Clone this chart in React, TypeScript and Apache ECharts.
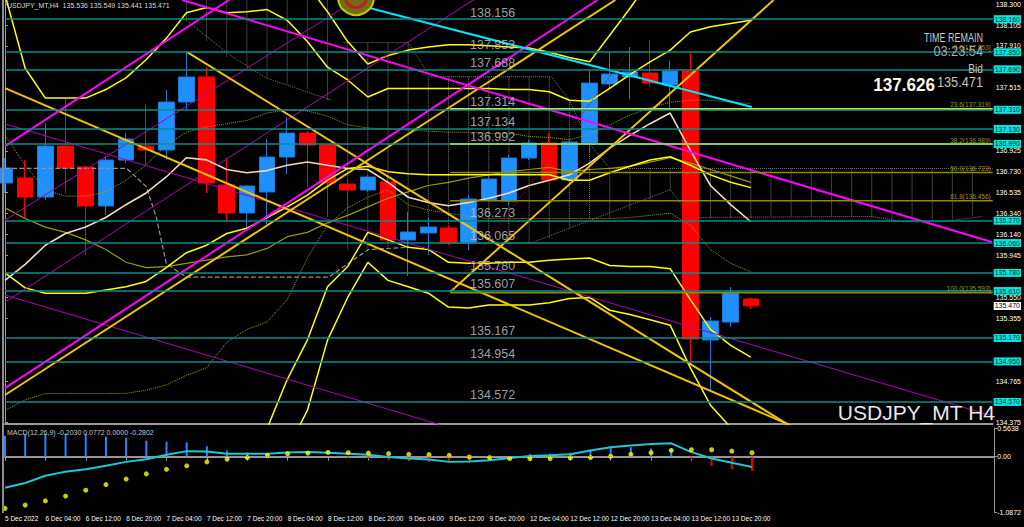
import React, { useEffect, useRef } from 'react';
import * as echarts from 'echarts';

const FONT = "'Liberation Sans', Arial, sans-serif";

// ---- bar times (H4) ----
const barTimes = [
  '5 Dec 2022', '6 Dec 00:00', '6 Dec 04:00', '6 Dec 08:00', '6 Dec 12:00', '6 Dec 16:00', '6 Dec 20:00',
  '7 Dec 00:00', '7 Dec 04:00', '7 Dec 08:00', '7 Dec 12:00', '7 Dec 16:00', '7 Dec 20:00',
  '8 Dec 00:00', '8 Dec 04:00', '8 Dec 08:00', '8 Dec 12:00', '8 Dec 16:00', '8 Dec 20:00',
  '9 Dec 00:00', '9 Dec 04:00', '9 Dec 08:00', '9 Dec 12:00', '9 Dec 16:00', '9 Dec 20:00',
  '12 Dec 00:00', '12 Dec 04:00', '12 Dec 08:00', '12 Dec 12:00', '12 Dec 16:00', '12 Dec 20:00',
  '13 Dec 00:00', '13 Dec 04:00', '13 Dec 08:00', '13 Dec 12:00', '13 Dec 16:00', '13 Dec 20:00',
  '14 Dec 00:00',
];
const SLOTS = 50;

// ---- OHLC ----
const opens = [136.623, 136.670, 136.492, 136.970, 136.774, 136.408, 136.839, 136.970, 136.933, 137.383, 137.618, 136.605, 136.342, 136.539, 136.867, 137.092, 136.980, 136.614, 136.558, 136.633, 136.089, 136.154, 136.201, 136.060, 136.464, 136.454, 136.858, 136.999, 136.651, 136.999, 137.552, 137.618, 137.655, 137.543, 137.674, 135.151, 135.319, 135.536];
const closes = [136.764, 136.492, 136.970, 136.764, 136.408, 136.839, 137.036, 136.933, 137.383, 137.618, 136.623, 136.342, 136.595, 136.867, 137.092, 136.980, 136.623, 136.558, 136.680, 136.089, 136.164, 136.211, 136.060, 136.473, 136.661, 136.858, 136.999, 136.651, 137.008, 137.561, 137.646, 137.665, 137.561, 137.674, 135.160, 135.329, 135.591, 135.471];
const lows = [136.529, 136.295, 136.464, 136.529, 135.948, 136.323, 136.811, 136.783, 136.839, 137.308, 136.529, 136.257, 136.201, 136.238, 136.708, 136.586, 136.304, 136.370, 136.540, 136.070, 135.751, 135.948, 136.042, 135.995, 136.445, 136.417, 136.839, 136.633, 136.633, 136.905, 137.505, 137.411, 137.524, 137.308, 134.944, 134.681, 135.272, 135.441];
const highs = [136.858, 136.839, 137.186, 137.411, 136.783, 136.877, 137.092, 137.364, 137.496, 137.852, 137.711, 136.858, 136.605, 137.036, 137.242, 137.111, 136.989, 136.651, 136.700, 136.689, 136.351, 136.304, 136.229, 136.511, 136.689, 136.886, 137.027, 137.092, 137.027, 137.683, 137.852, 137.899, 137.965, 137.768, 137.843, 135.366, 135.648, 135.549];

// ---- indicator curves (price per bar) ----
const maBeige = [135.71, 135.86, 136.04, 136.15, 136.21, 136.30, 136.42, 136.53, 136.68, 136.86, 136.84, 136.75, 136.72, 136.74, 136.79, 136.82, 136.79, 136.76, 136.75, 136.63, 136.49, 136.44, 136.41, 136.44, 136.48, 136.53, 136.60, 136.65, 136.70, 136.81, 136.95, 137.07, 137.18, 137.28, 136.93, 136.60, 136.42, 136.26];
const bandUpper1 = [138.39, 137.70, 137.42, 137.42, 137.42, 137.50, 137.61, 137.78, 137.98, 138.22, 138.27, 138.22, 138.23, 138.25, 138.15, 137.95, 137.71, 137.59, 137.43, 137.51, 137.51, 137.51, 137.51, 137.51, 137.51, 137.50, 137.50, 137.48, 137.40, 137.39, 137.51, 137.64, 137.76, 137.87, 138.04, 138.09, 138.12, 138.15];
const bandUpper2 = [null, null, null, null, null, null, null, null, null, null, null, null, null, null, 138.72, 138.48, 138.23, 137.95, 137.74, 137.82, 137.87, 137.90, 137.92, 137.92, 137.91, 137.90, 137.89, 137.85, 137.80, 137.76, 138.01, 138.26, 138.53, 138.76, null, null, null, null];
const bandMid = [135.78, 135.64, 135.59, 135.59, 135.59, 135.62, 135.65, 135.70, 135.83, 135.97, 136.04, 136.15, 136.20, 136.30, 136.40, 136.51, 136.65, 136.76, 136.78, 136.73, 136.71, 136.70, 136.70, 136.70, 136.70, 136.70, 136.70, 136.70, 136.65, 136.65, 136.72, 136.78, 136.84, 136.87, 136.79, 136.70, 136.63, 136.58];
const bandLower1 = [null, null, null, null, null, null, null, null, null, null, null, null, 133.93, 134.32, 134.78, 135.15, 135.65, 135.84, 136.16, 136.09, 136.02, 136.00, 135.88, 135.87, 135.87, 135.88, 135.88, 135.90, 135.91, 135.92, 135.85, 135.84, 135.84, 135.82, 135.53, 135.25, 135.10, 134.99];
const bandLower2 = [null, null, null, null, null, null, null, null, null, null, null, null, null, null, 134.12, 134.49, 135.15, 135.55, 135.88, 135.71, 135.65, 135.59, 135.46, 135.45, 135.48, 135.48, 135.48, 135.50, 135.54, 135.55, 135.43, 135.39, 135.34, 135.29, 134.89, 134.54, 134.33, 134.17];
const oliveMA = [136.39, 136.29, 136.21, 136.16, 136.09, 136.00, 135.88, 135.83, 135.84, 135.87, 135.90, 135.93, 135.95, 136.01, 136.12, 136.16, 136.25, 136.32, 136.40, 136.48, 136.54, 136.60, 136.63, 136.67, 136.70, 136.73, 136.75, 136.77, 136.73, 136.75, 136.76, 136.78, 136.82, 136.86, 136.81, 136.75, 136.69, 136.63];
const dottedUpper = [137.07, 136.79, 136.56, 136.50, 136.50, 136.54, 136.65, 136.79, 136.98, 137.10, 137.15, 137.18, 137.21, 137.28, 137.31, 137.30, 137.25, 137.17, 137.14, 137.13, 137.12, 137.11, 137.10, 137.10, 137.09, 137.09, 137.06, 137.05, 137.03, 137.08, 137.17, 137.26, 137.33, 137.38, 137.40, 137.40, 137.38, 137.37];
const dottedLower = [134.49, 134.59, 134.65, 134.65, 134.65, 134.65, 134.65, 134.68, 134.73, 134.82, 134.89, 135.13, 135.25, 135.32, 135.53, 135.92, 136.23, 136.39, 136.49, 136.56, 136.42, 136.37, 136.34, 136.31, 136.29, 136.29, 136.29, 136.29, 136.29, 136.29, 136.29, 136.30, 136.32, 136.34, 136.23, 136.00, 135.87, 135.79];

// ---- dotted cloud hatch (top / bottom per bar slot) ----
const cloudTop = [null, null, null, null, null, null, null, null, null, 138.40, 138.40, 138.40, 138.40, 138.40, 138.40, 138.40, 138.40, 137.94, 137.94, 137.94, 137.94, 137.62, 137.62, 137.62, 137.62, 137.62, 137.62, 137.62, 137.40, 136.99, 136.76, 136.76, 136.76, 136.76, 136.76, 136.76, 136.76, 136.76, 136.76, 136.76, 136.76, 136.76, 136.76, 136.76, 136.76, 136.76, 136.76, 136.76, 136.76, null];
const cloudBottom = [null, null, null, null, null, null, null, null, null, 138.15, 137.96, 137.81, 137.71, 137.61, 137.55, 137.50, 137.40, 136.00, 136.00, 136.02, 136.02, 136.05, 136.06, 136.06, 136.06, 136.06, 136.06, 136.10, 136.20, 136.28, 136.30, 136.37, 136.45, 136.56, 136.30, 136.30, 136.30, 136.30, 136.31, 136.31, 136.31, 136.31, 136.31, 136.30, 136.27, 136.26, 136.26, 136.28, 136.31, null];

// ---- polylines [barIndex, price] ----
const greyDashPath = [[0, 136.76], [6.03, 136.76], [7.01, 136.59], [7.51, 136.30], [8.0, 135.87], [8.99, 135.74], [16.05, 135.74], [18.03, 136.0], [20.0, 136.02]];
const cloudTopPath = [[16.8, 137.94], [20.0, 137.94], [21.1, 137.62], [27.1, 137.62], [28.0, 137.40], [29.0, 136.99], [30.0, 136.76], [49, 136.76]];
const cloudBottomPath = [[22.1, 136.06], [26.1, 136.06], [28.0, 136.20], [33.0, 136.56], [34.1, 136.30], [43.0, 136.31], [44.5, 136.26], [46.5, 136.26], [48.5, 136.31]];
const greyDotPathB = [[8.99, 138.15], [11.26, 137.81], [12.94, 137.61], [16.2, 137.40]];

// ---- trend lines ----
const magentaLines = [
  [[0, 134.700], [29.39, 138.34]],
  [[0, 136.970], [11.11, 138.34]],
  [[8.79, 138.34], [48.95, 136.070]],
];
const purpleLines = [
  [[0, 137.177], [49, 134.438]],
  [[0, 135.573], [23.46, 134.250]],
  [[0, 135.507], [23.22, 138.34]],
  [[0, 136.276], [17.39, 138.34]],
];
const goldLines = [
  [[0, 134.635], [30.28, 138.34]],
  [[0, 137.514], [39.76, 134.287]],
  [[9.04, 137.852], [39.76, 134.250]],
  [[22.08, 135.601], [38.13, 138.34]],
];
const cyanLines = [[[16.55, 138.34], [37.05, 137.336]]];
const fibTrend = [[22.08, 135.593], [30.9, 137.853]];

// ---- horizontal levels ----
const levelPrices = [138.156, 137.853, 137.688, 137.314, 137.134, 136.992, 136.273, 136.065, 135.780, 135.607, 135.167, 134.954, 134.572];
const fibRatios = ['0.0', '23.6', '38.2', '50.0', '61.8', '100.0'];
const fibPrices = [137.853, 137.319, 136.989, 136.723, 136.456, 135.593];
const fibStartIndex = 22.08;
const bidPrice = 135.471;

// ---- axes ----
const priceTicks = [138.300, 138.105, 137.910, 137.515, 136.925, 136.730, 136.535, 136.340, 136.140, 135.945, 135.550, 135.355, 134.765, 134.375];
const priceMin = 134.363;
const priceMax = 138.340;
const macdTicks = [0.5638, 0, -1.0872];

// ---- MACD(12,26,9) ----
const macdHist = [0.411, 0.443, 0.449, 0.455, 0.449, 0.392, 0.372, 0.315, 0.296, 0.282, 0.205, 0.123, 0.084, 0.050, 0.030, 0.020, -0.005, -0.020, -0.031, -0.066, -0.083, -0.100, -0.113, -0.088, -0.055, 0.010, 0.055, 0.060, 0.079, 0.136, 0.175, 0.186, 0.160, 0.150, -0.056, -0.179, -0.248, -0.2802];
const macdLine = [-0.612, -0.516, -0.376, -0.294, -0.248, -0.179, -0.102, -0.050, 0.040, 0.109, 0.104, 0.060, 0.060, 0.060, 0.084, 0.090, 0.079, 0.060, 0.040, -0.006, -0.036, -0.056, -0.102, -0.094, -0.069, -0.025, 0.013, 0.027, 0.046, 0.123, 0.186, 0.219, 0.251, 0.263, 0.090, -0.036, -0.121, -0.2030];
const macdSignal = [-1.015, -0.952, -0.869, -0.774, -0.658, -0.549, -0.440, -0.338, -0.248, -0.179, -0.102, -0.050, -0.017, 0.027, 0.060, 0.071, 0.084, 0.079, 0.071, 0.060, 0.046, 0.040, 0.027, -0.006, -0.017, -0.036, -0.036, -0.036, -0.025, -0.017, 0.008, 0.046, 0.079, 0.123, 0.136, 0.136, 0.109, 0.0772];

const titleText = 'USDJPY_MT,H4  135.536 135.549 135.441 135.471';
const macdTitle = 'MACD(12,26,9) -0.2030 0.0772 0.0000 -0.2802';

export default function App() {
  const ref = useRef<HTMLDivElement>(null);

  useEffect(() => {
    if (!ref.current) return;
    const chart = echarts.init(ref.current, null, { renderer: 'svg' });

    const cats = barTimes.concat(Array(SLOTS - barTimes.length).fill(''));
    const showLab = (i: number) => i % 2 === 0 && i < barTimes.length;
    const pts = (arr: (number | null)[]) => arr.map((v, i) => [i, v == null ? '-' : v]);
    const hatch: any[] = [];
    cloudTop.forEach((t, i) => {
      const b = cloudBottom[i];
      if (t == null || b == null) return;
      hatch.push([i, t], [i, b], [i, '-']);
    });

    const overlay = (data: any[], color: string, width: number, type: string = 'solid', z = 3) => ({
      type: 'line', xAxisIndex: 1, yAxisIndex: 0, data, symbol: 'none', silent: true,
      lineStyle: { color, width, type }, z, clip: true, connectNulls: false,
    });

    const series: any[] = [
      overlay(hatch, '#7a7a7a', 1, 'dotted', 1),
      overlay(cloudTopPath, '#7a7a7a', 1, 'dotted', 1),
      overlay(cloudBottomPath, '#7a7a7a', 1, 'dotted', 1),
      overlay(greyDotPathB, '#7a7a7a', 1, 'dotted', 1),
      {
        type: 'candlestick', xAxisIndex: 0, yAxisIndex: 0, barWidth: 16, clip: true, z: 2,
        data: opens.map((o, i) => [o, closes[i], lows[i], highs[i]]),
        itemStyle: { color: '#1e90ff', color0: '#ff0000', borderColor: '#1a78d8', borderColor0: '#ff0000', borderWidth: 1 },
      },
      overlay(pts(dottedUpper), '#a0a000', 1, 'dotted'),
      overlay(pts(dottedLower), '#a0a000', 1, 'dotted'),
      overlay(pts(oliveMA), '#9a9a00', 1.2),
      overlay(greyDashPath, '#a09080', 1.2, 'dashed'),
      overlay(pts(maBeige), '#f2dcc0', 1.6),
      overlay(pts(bandUpper1), '#ffff00', 1.5),
      overlay(pts(bandUpper2), '#ffff00', 1.5),
      overlay(pts(bandMid), '#ffff00', 1.5),
      overlay(pts(bandLower1), '#ffff00', 1.5),
      overlay(pts(bandLower2), '#ffff00', 1.5),
    ];
    purpleLines.forEach((l) => series.push(overlay(l, '#b000b0', 1, 'solid', 4)));
    goldLines.forEach((l) => series.push(overlay(l, '#f0c400', 2, 'solid', 4)));
    magentaLines.forEach((l) => series.push(overlay(l, '#ff00ff', 2, 'solid', 4)));
    cyanLines.forEach((l) => series.push(overlay(l, '#00e4ff', 2, 'solid', 4)));
    series.push(overlay(fibTrend, '#b00000', 1, 'dotted', 4));

    // teal horizontal levels + right tags
    series.push({
      type: 'line', xAxisIndex: 1, yAxisIndex: 0, data: [], z: 5, silent: true,
      markLine: {
        symbol: ['none', 'none'], silent: true,
        lineStyle: { color: '#0b8c8c', width: 1.5, type: 'solid' },
        label: {
          show: true, position: 'end', distance: 1,
          formatter: (p: any) => Number(p.value).toFixed(3),
          backgroundColor: '#00e6e6', color: '#002a2a', fontSize: 7, fontFamily: FONT, padding: [1, 1, 0, 1],
        },
        data: [
          ...levelPrices.map((p) => ({ yAxis: p })),
          {
            yAxis: bidPrice, lineStyle: { width: 0, color: 'rgba(0,0,0,0)' },
            label: { backgroundColor: '#ffffff', color: '#000000' },
          },
        ],
      },
    });
    // fib level lines (ray to the right)
    fibPrices.forEach((p, k) => {
      if (k === 0) return;
      const col = k <= 2 ? '#a6e860' : '#8c8c00';
      series.push(overlay([[fibStartIndex, p], [SLOTS - 1, p]], col, 1.5, 'solid', 6));
    });
    // level texts
    series.push({
      type: 'scatter', xAxisIndex: 1, yAxisIndex: 0, z: 7, silent: true, symbolSize: 1,
      itemStyle: { color: 'rgba(0,0,0,0)' },
      data: levelPrices.map((p) => [23.07, p]),
      label: {
        show: true, position: 'top', align: 'left', distance: 0,
        formatter: (p: any) => p.value[1].toFixed(3),
        color: '#c8c8c8', fontSize: 12.5, fontFamily: FONT,
      },
    });
    // fib texts
    series.push({
      type: 'scatter', xAxisIndex: 1, yAxisIndex: 0, z: 7, silent: true, symbolSize: 1,
      itemStyle: { color: 'rgba(0,0,0,0)' },
      data: fibPrices.map((p) => [SLOTS - 1.1, p]),
      label: {
        show: true, position: 'top', align: 'right', distance: 0,
        formatter: (p: any) => `${fibRatios[p.dataIndex]}(${p.value[1].toFixed(3)})`,
        color: '#c0c000', fontSize: 6.5, fontFamily: FONT,
      },
    });

    // MACD
    series.push({
      type: 'bar', xAxisIndex: 2, yAxisIndex: 1, data: macdHist, barWidth: 2, z: 2,
      itemStyle: { color: (p: any) => (p.value >= 0 ? '#1e88ff' : '#ee0000') },
    });
    series.push({
      type: 'line', xAxisIndex: 2, yAxisIndex: 1, data: macdLine, symbol: 'none', z: 3,
      lineStyle: { color: '#1fc6d6', width: 2 },
      markLine: {
        symbol: ['none', 'none'], silent: true, label: { show: false },
        lineStyle: { color: '#8a8a8a', type: 'dotted', width: 1 },
        data: [{ yAxis: 0 }],
      },
    });
    series.push({
      type: 'scatter', xAxisIndex: 2, yAxisIndex: 1, data: macdSignal, symbolSize: 5, z: 4,
      itemStyle: { color: '#ffff00' },
    });

    const txt = (text: string, x: number, y: number, fill: string, fontSize: number, align = 'left', scaleX = 1, fontWeight = 'normal') => ({
      type: 'text', x, y, scaleX, z: 100, silent: true,
      style: { text, fill, fontSize, fontFamily: FONT, fontWeight, align, verticalAlign: 'middle' },
    });

    const option: any = {
      animation: false,
      backgroundColor: '#000000',
      grid: [
        { left: 5, width: 992, top: 0, height: 424 },
        { left: 5, width: 992, top: 428, height: 84 },
      ],
      xAxis: [
        {
          type: 'category', gridIndex: 0, data: cats, boundaryGap: false,
          axisLine: { show: true, lineStyle: { color: '#9a9a9a', width: 2 } },
          axisLabel: { show: false }, axisTick: { show: false }, splitLine: { show: false },
        },
        { type: 'value', gridIndex: 0, min: 0, max: SLOTS - 1, show: false },
        {
          type: 'category', gridIndex: 1, data: cats, boundaryGap: false,
          axisLine: { show: true, lineStyle: { color: '#9a9a9a', width: 2 } },
          axisTick: { show: true, interval: (i: number) => showLab(i), length: 4, lineStyle: { color: '#9a9a9a' } },
          axisLabel: { interval: (i: number) => showLab(i), color: '#ffffff', fontSize: 6.5, fontFamily: FONT, align: 'left', margin: 3 },
          splitLine: { show: false },
        },
      ],
      yAxis: [
        {
          type: 'value', gridIndex: 0, position: 'right', min: priceMin, max: priceMax,
          axisLine: { show: true, lineStyle: { color: '#9a9a9a' } },
          axisTick: { show: true, customValues: priceTicks, length: 3, lineStyle: { color: '#9a9a9a' } },
          axisLabel: { customValues: priceTicks, formatter: (v: number) => v.toFixed(3), color: '#ffffff', fontSize: 7, fontFamily: FONT, margin: 3 },
          splitLine: { show: false },
        },
        {
          type: 'value', gridIndex: 1, position: 'right', min: -1.0872, max: 0.5638,
          axisLine: { show: true, lineStyle: { color: '#9a9a9a' } },
          axisTick: { show: true, customValues: macdTicks, length: 3, lineStyle: { color: '#9a9a9a' } },
          axisLabel: { customValues: macdTicks, formatter: (v: number) => (v === 0 ? '0.00' : v.toFixed(4)), color: '#ffffff', fontSize: 7, fontFamily: FONT, margin: 3 },
          splitLine: { show: false },
        },
      ],
      series,
      graphic: [
        { type: 'line', z: 100, silent: true, shape: { x1: 3, y1: 0, x2: 3, y2: 513 }, style: { stroke: '#8c8c8c', lineWidth: 2 } },
        { type: 'circle', z: 90, silent: true, shape: { cx: 356, cy: -3, r: 18 }, style: { fill: '#6e6e16', stroke: '#c8c800', lineWidth: 2 } },
        { type: 'ring', z: 91, silent: true, shape: { cx: 356, cy: -3, r: 12, r0: 9 }, style: { fill: '#c02020' } },
        txt(titleText, 7, 5, '#d8d8d8', 7),
        txt('TIME REMAIN', 983, 37, '#c8c8c8', 12, 'right', 0.75),
        txt('03:23:54', 983, 51, '#a8a8a8', 15, 'right', 0.85),
        txt('Bid', 983, 69, '#c8c8c8', 12, 'right', 0.85),
        txt('137.626', 935, 85, '#fff6e6', 19, 'right', 0.9, 'bold'),
        txt('135.471', 983, 82, '#c0c0c0', 15, 'right', 0.85),
        txt('USDJPY_MT H4', 995, 412, '#e8e8e8', 21, 'right'),
        txt(macdTitle, 7, 432, '#c8c8c8', 7),
      ],
    };

    chart.setOption(option);
    return () => chart.dispose();
  }, []);

  return (
    <div
      ref={ref}
      style={{ position: 'fixed', left: 0, top: 0, width: 1024, height: 527, background: '#000' }}
    />
  );
}
